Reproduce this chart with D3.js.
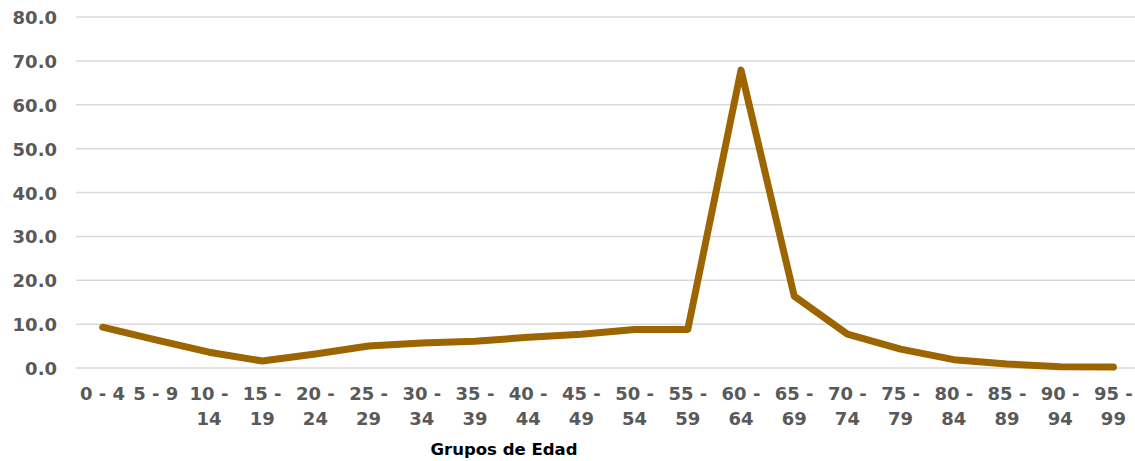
<!DOCTYPE html>
<html>
<head>
<meta charset="utf-8">
<script src="https://cdn.jsdelivr.net/npm/d3@7"></script>
<style>
    body { margin: 0; background: #fff; }
    svg text { font-family: "DejaVu Sans", Verdana, sans-serif; font-weight: bold; }
</style>
</head>
<body>
<div id="chart"></div>
<script>
// age groups and values
var groups = ["0 - 4", "5 - 9", "10 - 14", "15 - 19", "20 - 24", "25 - 29", "30 - 34",
    "35 - 39", "40 - 44", "45 - 49", "50 - 54", "55 - 59", "60 - 64", "65 - 69",
    "70 - 74", "75 - 79", "80 - 84", "85 - 89", "90 - 94", "95 - 99"];
var values = [9.3, 6.4, 3.6, 1.6, 3.2, 5.0, 5.7, 6.1, 7.0, 7.7, 8.8, 8.8, 67.9, 16.4,
    7.7, 4.3, 1.9, 0.9, 0.3, 0.2];
var yTicks = [0, 10, 20, 30, 40, 50, 60, 70, 80];
var xTitle = "Grupos de Edad";

var width = 1135, height = 461;
var margin = { left: 76, right: -5, top: 17, bottom: 93 };

var svg = d3.select("#chart").append("svg")
    .attr("width", width)
    .attr("height", height);

var x = d3.scaleBand()
    .domain(groups)
    .range([margin.left, width - margin.right]);

var y = d3.scaleLinear()
    .domain([0, 80])
    .range([height - margin.bottom, margin.top]);

// gridlines
svg.append("g")
    .selectAll("line")
    .data(yTicks)
    .enter()
    .append("line")
    .attr("x1", margin.left)
    .attr("x2", width)
    .attr("y1", (d) => y(d))
    .attr("y2", (d) => y(d))
    .attr("stroke", "#d9d9d9")
    .attr("stroke-width", 1.5);

// y labels
svg.append("g")
    .selectAll("text")
    .data(yTicks)
    .enter()
    .append("text")
    .attr("x", 57)
    .attr("y", (d) => y(d) + 7)
    .attr("text-anchor", "end")
    .attr("font-size", 18)
    .attr("fill", "#595959")
    .text((d) => d.toFixed(1));

// x labels, wrapped like the original
var xl = svg.append("g")
    .selectAll("text")
    .data(groups)
    .enter()
    .append("text")
    .attr("text-anchor", "middle")
    .attr("font-size", 18)
    .attr("fill", "#595959");

xl.each(function(d) {
    var t = d3.select(this);
    var cx = x(d) + x.bandwidth() / 2;
    var parts = d.split(" - ");
    if (d.length <= 5) {
        t.append("tspan").attr("x", cx).attr("y", 400).text(d);
    } else {
        t.append("tspan").attr("x", cx).attr("y", 400).text(parts[0] + " -");
        t.append("tspan").attr("x", cx).attr("y", 425).text(parts[1]);
    }
});

// axis title
svg.append("text")
    .attr("x", 504)
    .attr("y", 455)
    .attr("text-anchor", "middle")
    .attr("font-size", 16.5)
    .attr("fill", "#000")
    .text(xTitle);

// the line
var line = d3.line()
    .x((d, i) => x(groups[i]) + x.bandwidth() / 2)
    .y((d) => y(d));

svg.append("path")
    .datum(values)
    .attr("d", line)
    .attr("fill", "none")
    .attr("stroke", "#9c6500")
    .attr("stroke-width", 7)
    .attr("stroke-linejoin", "round")
    .attr("stroke-linecap", "round");
</script>
</body>
</html>
